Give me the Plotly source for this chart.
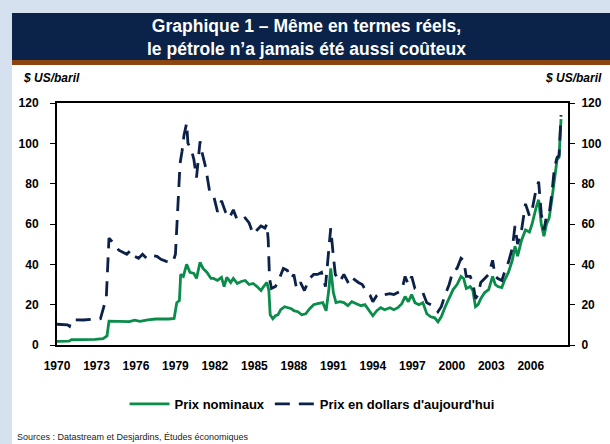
import plotly.graph_objects as go

# ---------------- data ----------------
nom_years = [1970.0, 1970.9, 1971.1, 1972.0, 1972.9, 1973.5, 1973.8, 1973.95, 1974.5, 1975.5,
             1975.9, 1976.3, 1976.9, 1977.5, 1978.5, 1978.9, 1979.1, 1979.3, 1979.4, 1979.6,
             1979.85, 1980.1, 1980.4, 1980.6, 1980.87, 1981.1, 1981.4, 1981.7, 1981.9, 1982.2,
             1982.5, 1982.7, 1982.9, 1983.2, 1983.4, 1983.7, 1984.0, 1984.3, 1984.6, 1984.9,
             1985.2, 1985.5, 1985.7, 1985.95, 1986.1, 1986.2, 1986.4, 1986.6, 1986.8, 1987.0,
             1987.3, 1987.5, 1987.8, 1988.0, 1988.3, 1988.6, 1988.9, 1989.2, 1989.5, 1989.8,
             1990.2, 1990.45, 1990.65, 1990.8, 1991.0, 1991.2, 1991.5, 1991.8, 1992.1, 1992.4,
             1992.8, 1993.1, 1993.4, 1993.7, 1994.0, 1994.3, 1994.6, 1994.9, 1995.3, 1995.6,
             1995.9, 1996.2, 1996.45, 1996.7, 1996.95, 1997.2, 1997.5, 1997.8, 1998.1, 1998.4,
             1998.7, 1998.95, 1999.2, 1999.5, 1999.8, 2000.1, 2000.4, 2000.7, 2000.9, 2001.1,
             2001.4, 2001.6, 2001.8, 2002.0, 2002.2, 2002.5, 2002.8, 2003.1, 2003.3, 2003.5,
             2003.8, 2004.0, 2004.3, 2004.6, 2004.8, 2005.0, 2005.3, 2005.6, 2005.9, 2006.1,
             2006.4, 2006.6, 2006.8, 2007.0, 2007.2, 2007.4, 2007.6, 2007.8, 2008.0, 2008.15,
             2008.3]
nom_vals = [1.8, 1.9, 2.6, 2.6, 2.8, 3.2, 4.5, 11.8, 11.8, 11.6,
            12.3, 11.7, 12.5, 12.9, 12.9, 13.2, 21, 22, 35, 34,
            40, 36, 35.5, 33, 41, 38, 36, 33, 33, 32,
            33.5, 29, 33.5, 31, 33, 30.5, 31.5, 32, 30, 30.5,
            29, 27, 29, 31, 27, 15, 13, 14.5, 15, 17.5,
            19, 18.5, 18, 17, 16.5, 15, 15.5, 18, 20, 20.5,
            21, 17, 27, 38, 26, 21, 21.5, 21, 19.5, 21.5,
            20.5, 19.5, 20, 17.5, 14.5, 17, 18.5, 17.5, 18.5, 17.5,
            18.5, 20.5, 24, 21.5, 25, 21, 20, 21, 15.5, 14,
            13.5, 11.5, 14, 19, 23, 27.5, 30, 34, 33, 28,
            29, 27, 19, 20, 23, 26, 27.5, 34, 30, 29,
            28.5, 32, 36, 42, 49, 44, 52, 57, 56, 60,
            68, 72, 60, 54, 60, 63, 72, 82, 92, 93,
            112]

real_years = [1970.0, 1970.8, 1970.95, 1971.1, 1972.0, 1972.9, 1973.3, 1973.6, 1973.75, 1973.95,
              1974.3, 1974.7, 1975.0, 1975.3, 1975.6, 1975.9, 1976.2, 1976.5, 1976.8, 1977.1,
              1977.6, 1977.9, 1978.3, 1978.8, 1979.0, 1979.15, 1979.35, 1979.5, 1979.65, 1979.85,
              1979.95, 1980.2, 1980.4, 1980.6, 1980.87, 1981.0, 1981.3, 1981.6, 1981.9, 1982.2,
              1982.5, 1982.8, 1983.1, 1983.4, 1983.7, 1984.0, 1984.3, 1984.6, 1984.9, 1985.2,
              1985.5, 1985.8, 1985.95, 1986.05, 1986.15, 1986.3, 1986.6, 1986.9, 1987.2, 1987.5,
              1987.8, 1988.0, 1988.2, 1988.5, 1988.8, 1989.2, 1989.5, 1989.8, 1990.1, 1990.4,
              1990.6, 1990.8, 1991.0, 1991.15, 1991.5, 1991.8, 1992.2, 1992.5, 1992.9, 1993.2,
              1993.5, 1993.8, 1994.0, 1994.3, 1994.6, 1994.9, 1995.3, 1995.6, 1995.9, 1996.2,
              1996.45, 1996.7, 1996.95, 1997.2, 1997.5, 1997.8, 1998.1, 1998.4, 1998.7, 1998.95,
              1999.2, 1999.5, 1999.8, 2000.1, 2000.4, 2000.7, 2000.9, 2001.1, 2001.4, 2001.6,
              2001.8, 2002.0, 2002.2, 2002.5, 2002.8, 2003.1, 2003.3, 2003.5, 2003.8, 2004.0,
              2004.3, 2004.6, 2004.8, 2005.0, 2005.3, 2005.6, 2005.9, 2006.1, 2006.4, 2006.6,
              2006.8, 2007.0, 2007.2, 2007.4, 2007.6, 2007.8, 2008.0, 2008.15, 2008.3]
real_vals = [10.3, 10.0, 9.3, 12.5, 12.4, 12.6, 13.0, 20, 24, 53,
             50.5, 47, 46, 45, 47, 44, 43, 45, 43, 44.5,
             44, 42.5, 41.5, 41, 45, 62, 90, 96, 104, 110,
             100, 97, 92, 83, 101, 96, 88, 76, 74, 66,
             71.5, 66, 63, 67, 62, 62, 63, 60.5, 55, 57,
             59, 58, 60, 52, 33, 28, 29, 33, 38, 37,
             33, 35, 28, 31, 27, 33, 35, 35, 36, 29,
             45, 58, 44, 35, 31.5, 35, 30, 33, 31, 30,
             26.5, 24.5, 21.5, 24.5, 26, 25, 25.5, 25, 26, 27,
             34, 30, 34, 28, 27, 26, 21, 20, 19, 16.5,
             19, 25, 30, 37, 38, 43, 42, 34, 34, 31,
             23, 25, 31, 33, 35, 42, 34, 33, 32, 36,
             41, 48, 59, 50, 57, 70, 64, 67, 77, 81,
             65, 57, 64, 65, 75, 88, 93, 94, 114]

x_ticks = [1970, 1973, 1976, 1979, 1982, 1985, 1988, 1991, 1994, 1997, 2000, 2003, 2006]
y_ticks = [0, 20, 40, 60, 80, 100, 120]

title_lines = ["Graphique 1 – Même en termes réels,", "le pétrole n’a jamais été aussi coûteux"]
unit_label = "$ US/baril"
series_names = ["Prix nominaux", "Prix en dollars d'aujourd'hui"]
source_text = "Sources : Datastream et Desjardins, Études économiques"

# ---------------- styling ----------------
FONT = "Liberation Sans, Arial, sans-serif"
GREEN = "#0a8c4a"
NAVY = "#0c2148"
BAND = "#0b2249"
BROWN = "#8b4511"
BG = "#d5e1ee"

W, H = 610, 444
L, R, T, B = 57, 568, 103, 345
pw, ph = R - L, B - T


def px(xp):
    return (xp - L) / pw


def py(yp):
    return (B - yp) / ph


fig = go.Figure()
fig.add_trace(go.Scatter(x=nom_years, y=nom_vals, mode="lines", name=series_names[0],
                         line=dict(color=GREEN, width=2.8), yaxis="y"))
fig.add_trace(go.Scatter(x=real_years, y=real_vals, mode="lines", name=series_names[1],
                         line=dict(color=NAVY, width=2.8, dash="15px,9px"), yaxis="y2"))

shapes = [
    dict(type="rect", xref="paper", yref="paper", x0=px(12), x1=px(W + 5), y0=py(H + 10), y1=py(13),
         fillcolor="white", line=dict(width=0), layer="below"),
    dict(type="rect", xref="paper", yref="paper", x0=px(12), x1=px(W + 5), y0=py(60), y1=py(13),
         fillcolor=BAND, line=dict(width=0), layer="below"),
    dict(type="rect", xref="paper", yref="paper", x0=px(12), x1=px(W + 5), y0=py(65), y1=py(60),
         fillcolor=BROWN, line=dict(width=0), layer="below"),
]

annotations = [
    dict(text=title_lines[0] + "<br>" + title_lines[1], xref="paper", yref="paper",
         x=px(306), y=py(37.5), xanchor="center", yanchor="middle", showarrow=False,
         font=dict(family=FONT, size=17.5, color="white", weight="bold")),
    dict(text="<i>" + unit_label + "</i>", xref="paper", yref="paper",
         x=px(21), y=py(78), xanchor="left", yanchor="middle", showarrow=False,
         font=dict(family=FONT, size=12, color="black", weight="bold")),
    dict(text="<i>" + unit_label + "</i>", xref="paper", yref="paper",
         x=px(604), y=py(78), xanchor="right", yanchor="middle", showarrow=False,
         font=dict(family=FONT, size=12, color="black", weight="bold")),
    dict(text=source_text, xref="paper", yref="paper",
         x=px(15), y=py(437), xanchor="left", yanchor="middle", showarrow=False,
         font=dict(family=FONT, size=9, color="#222222")),
]

axis_font = dict(family=FONT, size=12, color="black", weight="bold")

fig.update_layout(
    width=W, height=H,
    margin=dict(l=L, r=W - R, t=T, b=H - B, pad=0, autoexpand=False),
    paper_bgcolor=BG, plot_bgcolor="white",
    showlegend=True,
    legend=dict(orientation="h", x=px(312), y=py(404), xanchor="center", yanchor="middle",
                font=dict(family=FONT, size=13, color="black", weight="bold"),
                bgcolor="rgba(0,0,0,0)", itemwidth=40, traceorder="normal"),
    xaxis=dict(range=[1970, 2008.83], tickvals=x_ticks, ticktext=[str(v) for v in x_ticks],
               showgrid=False, zeroline=False, showline=True, linecolor="black", linewidth=2,
               mirror=True, ticks="outside", ticklen=9, tickcolor="rgba(0,0,0,0)",
               tickfont=axis_font),
    yaxis=dict(range=[0, 120], tickvals=y_ticks, showgrid=False, zeroline=False,
               showline=True, linecolor="black", linewidth=2, ticks="outside", ticklen=5,
               tickcolor="black", tickwidth=1, ticklabelstandoff=9, tickfont=axis_font),
    yaxis2=dict(range=[0, 120], tickvals=y_ticks, overlaying="y", side="right", showgrid=False,
                zeroline=False, showline=True, linecolor="black", linewidth=2, ticks="outside",
                ticklen=5, tickcolor="black", tickwidth=1, ticklabelstandoff=4,
                tickfont=axis_font),
    shapes=shapes,
    annotations=annotations,
)

fig.write_html("out.html", config={"displayModeBar": False},
               post_script="document.body.style.margin='0';document.body.style.overflow='hidden';")
